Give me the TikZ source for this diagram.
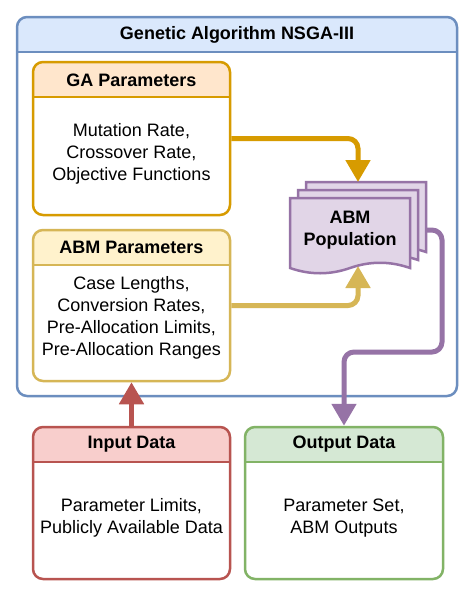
\documentclass[tikz,border=0pt]{standalone}
\usepackage{fontspec}
\setmainfont{Liberation Sans}
\usetikzlibrary{arrows.meta}
\definecolor{algoline}{HTML}{6C8EBF}
\definecolor{algofill}{HTML}{DAE8FC}
\definecolor{galine}{HTML}{D79B00}
\definecolor{gafill}{HTML}{FFE6CC}
\definecolor{abmline}{HTML}{D6B656}
\definecolor{abmfill}{HTML}{FFF2CC}
\definecolor{inline}{HTML}{B85450}
\definecolor{infill}{HTML}{F8CECC}
\definecolor{outdraw}{HTML}{82B366}
\definecolor{outfill}{HTML}{D5E8D4}
\definecolor{popline}{HTML}{9673A6}
\definecolor{popfill}{HTML}{E1D5E7}
\begin{document}
\begin{tikzpicture}[x=1pt, y=-1pt,
    every node/.style={font=\fontsize{18}{22}\selectfont, inner sep=0pt},
    panel/.style 2 args={draw=#1, fill=white, line width=2.5pt, rounded corners=10pt,
      path picture={
        \fill[#2, sharp corners] (path picture bounding box.north west) rectangle ([yshift=-35pt]path picture bounding box.north east);
        \draw[#1, line width=2.5pt, sharp corners] ([yshift=-35pt]path picture bounding box.north west) -- ([yshift=-35pt]path picture bounding box.north east);}},
    head/.style={font=\fontsize{18}{22}\selectfont\bfseries, align=center},
    body/.style={align=center},
    flow/.style={line width=5pt, rounded corners=10pt, -{Triangle[width=24pt,length=22pt]}},
    sheet/.style={draw=popline, fill=popfill, line width=2.5pt}]
  \useasboundingbox (0,0) rectangle (474,595);
  % Outer frame
  \node[panel={algoline}{algofill}, minimum width=440pt, minimum height=379pt] (algo) at (237,206.5) {};
  \node[head] (algotitle) at (237,35) {Genetic Algorithm NSGA-III};
  % Parameter boxes
  \node[panel={galine}{gafill}, minimum width=197pt, minimum height=153pt] (ga) at (131.5,138.5) {};
  \node[head] (gatitle) at (131.5,80) {GA Parameters};
  \node[body] (gatext) at (131.5,154) {Mutation Rate,\\Crossover Rate,\\Objective Functions};
  \node[panel={abmline}{abmfill}, minimum width=197pt, minimum height=151pt] (abmpar) at (131.5,305.5) {};
  \node[head] (abmtitle) at (131.5,247.5) {ABM Parameters};
  \node[body] (abmtext) at (131.5,318) {Case Lengths,\\Conversion Rates,\\Pre-Allocation Limits,\\Pre-Allocation Ranges};
  % Data boxes
  \node[panel={inline}{infill}, minimum width=197pt, minimum height=152pt] (input) at (131.5,503) {};
  \node[head] (inputtitle) at (131.5,444.5) {Input Data};
  \node[body] (inputtext) at (131.5,518) {Parameter Limits,\\Publicly Available Data};
  \node[panel={outdraw}{outfill}, minimum width=198pt, minimum height=152pt] (output) at (344,503) {};
  \node[head] (outputtitle) at (344,444.5) {Output Data};
  \node[body] (outputtext) at (344,518) {Parameter Set,\\ABM Outputs};
  % Population sheets
  \foreach \d in {16,8,0}
    \draw[sheet] (290+\d,198-\d) -- (410+\d,198-\d) -- (410+\d,268-\d)
      .. controls (390+\d,261-\d) and (370+\d,261-\d) .. (350+\d,268-\d)
      .. controls (330+\d,275-\d) and (310+\d,275-\d) .. (290+\d,268-\d) -- cycle;
  \node[head] (pop) at (350,230) {ABM\\Population};
  \coordinate (poptop) at (358,182);
  \coordinate (popbot) at (358,266);
  \coordinate (popright) at (426,230);
  \coordinate (popbend) at (442,352);
  % Arrows
  \draw[flow, galine] (ga.east) -| (poptop);
  \draw[flow, abmline] (abmpar.east) -| (popbot);
  \draw[flow, inline] (input.north) -- (abmpar.south);
  \draw[flow, popline] (popright) -| (popbend) -| (output.north);
\end{tikzpicture}
\end{document}
